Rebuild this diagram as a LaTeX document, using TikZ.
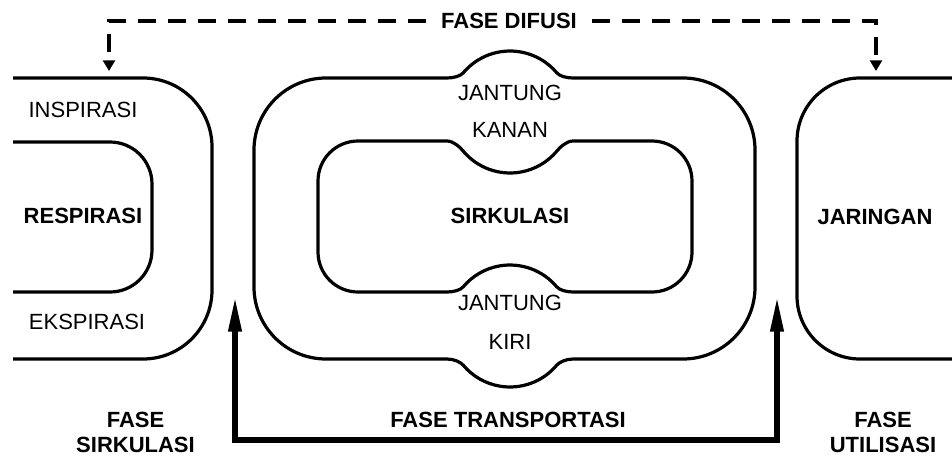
\documentclass[tikz,border=0pt]{standalone}
\usepackage{fontspec}
\setmainfont{Liberation Sans}
\usetikzlibrary{arrows.meta}

\begin{document}
\begin{tikzpicture}
  [x=0.75pt,y=-0.75pt,line width=2.4pt,
   every node/.style={font=\fontsize{16.5}{18.75}\selectfont, align=center, inner sep=0pt},
   tebal/.style={font=\fontsize{16.5}{18.75}\selectfont\bfseries},
   panahDifusi/.style={->, >={Triangle[width=9pt,length=8pt]}, line width=2.6pt, dash pattern=on 13.5pt off 9pt},
   panahTransport/.style={<->, >={Triangle[width=9.5pt,length=26pt]}, line width=3.8pt}]
  \useasboundingbox (0,0) rectangle (952,457);

  % respirasi
  \draw (13,78) -- (143,78) arc[start angle=270,end angle=360,radius=69]
    -- (212,290) arc[start angle=0,end angle=90,radius=69] -- (13,359);
  \draw (13,142) -- (110,142) arc[start angle=270,end angle=360,radius=42]
    -- (152,250) arc[start angle=0,end angle=90,radius=42] -- (13,292);

  % sirkulasi, jantung kanan di atas dan jantung kiri di bawah
  \draw (326,78) -- (447,78) .. controls (454,78) and (460.7,75.9) .. (463.3,72.8)
    arc[start angle=220,end angle=320,radius=61]
    .. controls (559.3,75.9) and (566,78) .. (573,78) -- (683,78)
    arc[start angle=270,end angle=360,radius=72] -- (755,287)
    arc[start angle=0,end angle=90,radius=72] -- (573,359)
    .. controls (566,359) and (559.3,362.1) .. (556.7,365.2)
    arc[start angle=40,end angle=140,radius=61]
    .. controls (460.7,362.1) and (454,359) .. (447,359) -- (326,359)
    arc[start angle=90,end angle=180,radius=72] -- (254,150)
    arc[start angle=180,end angle=270,radius=72] -- cycle;
  \draw (358,141) -- (447,141) .. controls (454,141) and (460.7,148.1) .. (463.3,151.2)
    arc[start angle=140,end angle=40,radius=61]
    .. controls (559.3,148.1) and (566,141) .. (573,141) -- (652,141)
    arc[start angle=270,end angle=360,radius=40] -- (692,252)
    arc[start angle=0,end angle=90,radius=40] -- (573,292)
    .. controls (566,292) and (559.3,289.9) .. (556.7,286.8)
    arc[start angle=320,end angle=220,radius=61]
    .. controls (460.7,289.9) and (454,292) .. (447,292) -- (358,292)
    arc[start angle=90,end angle=180,radius=40] -- (318,181)
    arc[start angle=180,end angle=270,radius=40] -- cycle;

  % jaringan
  \draw (952,78) -- (860,78) arc[start angle=270,end angle=180,radius=63]
    -- (797,296) arc[start angle=180,end angle=90,radius=63] -- (952,359);

  \coordinate (respAtas) at (109,71);
  \coordinate (jarAtas) at (876,71);
  \coordinate (respBawah) at (235,297);
  \coordinate (jarBawah) at (777,297);
  \coordinate (bawah) at (506,440);

  \node (inspirasi) at (83,110) {INSPIRASI};
  \node[tebal] (respirasi) at (83,216) {RESPIRASI};
  \node (ekspirasi) at (87,322) {EKSPIRASI};
  \node[tebal] (faseSirk) at (135.5,432.5) {FASE\\SIRKULASI};
  \node (kanan) at (510,111.7) {JANTUNG\\[9pt]KANAN};
  \node[tebal] (sirkulasi) at (510,216) {SIRKULASI};
  \node (kiri) at (510,322.3) {JANTUNG\\[10pt]KIRI};
  \node[tebal] (transport) at (508,420) {FASE TRANSPORTASI};
  \node[tebal] (jaringan) at (875,217) {JARINGAN};
  \node[tebal] (faseUtil) at (883,432.5) {FASE\\UTILISASI};
  \node[tebal, inner xsep=10pt] (difusi) at (509,21) {FASE DIFUSI};

  \draw[panahDifusi] (difusi) -| (respAtas);
  \draw[panahDifusi] (difusi) -| (jarAtas);
  \draw[panahTransport] (respBawah) |- (bawah) -| (jarBawah);
\end{tikzpicture}
\end{document}
